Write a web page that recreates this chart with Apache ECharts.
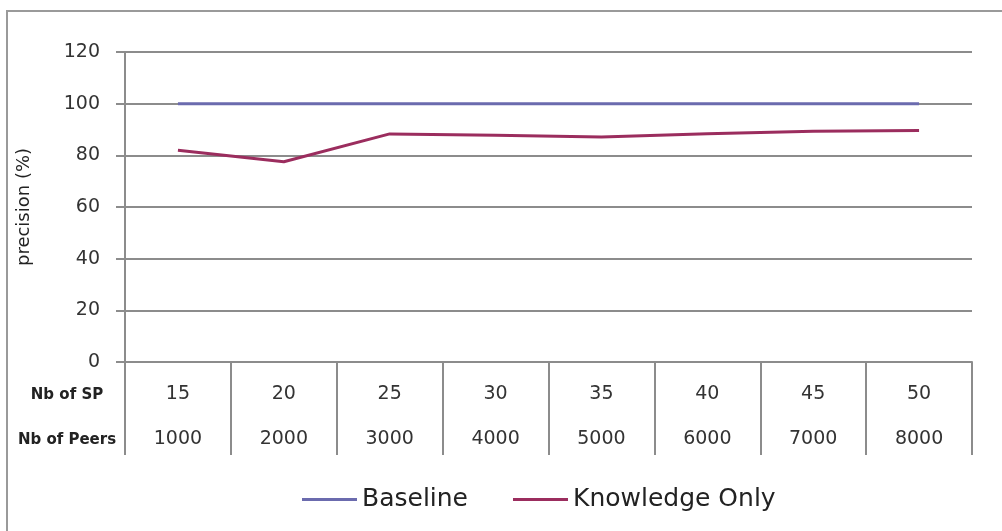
<!DOCTYPE html>
<html>
<head>
<meta charset="utf-8">
<script src="https://cdn.jsdelivr.net/npm/echarts@6/dist/echarts.min.js"></script>
<style>
html,body{margin:0;padding:0;background:#fff;}
#chart{width:1002px;height:531px;}
</style>
</head>
<body>
<div id="chart"></div>
<script>
// Data
var nbOfSP = ['15', '20', '25', '30', '35', '40', '45', '50'];
var nbOfPeers = ['1000', '2000', '3000', '4000', '5000', '6000', '7000', '8000'];
var baseline = [100, 100, 100, 100, 100, 100, 100, 100];
var knowledgeOnly = [82, 77.5, 88.3, 87.8, 87.1, 88.4, 89.3, 89.6];
var yTicks = { min: 0, max: 120, interval: 20 };
var rowLabels = ['Nb of SP', 'Nb of Peers'];
var seriesNames = ['Baseline', 'Knowledge Only'];

var gridColor = '#8c8c8c';
var font = 'DejaVu Sans';

var categories = nbOfSP.map(function (sp, i) { return sp + '\n' + nbOfPeers[i]; });

var chart = echarts.init(document.getElementById('chart'), null, { renderer: 'canvas' });
chart.setOption({
  animation: false,
  backgroundColor: '#ffffff',
  grid: { left: 125, right: 30, top: 52, bottom: 169, containLabel: false },
  xAxis: {
    type: 'category',
    data: categories,
    boundaryGap: true,
    axisLine: { show: true, lineStyle: { color: gridColor, width: 2 } },
    axisTick: { show: true, interval: 0, length: 93, lineStyle: { color: gridColor, width: 2 } },
    axisLabel: {
      interval: 0,
      margin: 10,
      fontFamily: font,
      fontSize: 19,
      lineHeight: 45,
      color: '#333333'
    },
    splitLine: { show: false }
  },
  yAxis: {
    type: 'value',
    min: yTicks.min,
    max: yTicks.max,
    interval: yTicks.interval,
    name: 'precision (%)',
    nameLocation: 'middle',
    nameRotate: 90,
    nameGap: 92,
    nameTextStyle: { fontFamily: font, fontSize: 18, color: '#222222' },
    axisLine: { show: true, lineStyle: { color: gridColor, width: 2 } },
    axisTick: { show: true, length: 9, lineStyle: { color: gridColor, width: 2 } },
    axisLabel: { margin: 25, fontFamily: font, fontSize: 19, color: '#333333' },
    splitLine: { show: true, lineStyle: { color: gridColor, width: 2 } }
  },
  legend: {
    left: 297,
    top: 482,
    itemWidth: 55,
    itemHeight: 3,
    itemGap: 45,
    icon: 'rect',
    textStyle: { fontFamily: font, fontSize: 25, color: '#222222' },
    data: seriesNames
  },
  series: [
    {
      name: seriesNames[0],
      type: 'line',
      data: baseline,
      symbol: 'none',
      lineStyle: { color: '#6b6bae', width: 3 },
      itemStyle: { color: '#6b6bae' }
    },
    {
      name: seriesNames[1],
      type: 'line',
      data: knowledgeOnly,
      symbol: 'none',
      lineStyle: { color: '#9b2d5e', width: 3 },
      itemStyle: { color: '#9b2d5e' }
    }
  ],
  graphic: [
    {
      type: 'rect',
      shape: { x: 7, y: 11, width: 1100, height: 600 },
      style: { fill: 'none', stroke: '#9a9a9a', lineWidth: 2 },
      silent: true
    },
    {
      type: 'text',
      x: 67, y: 395,
      style: { text: rowLabels[0], fontFamily: font, fontWeight: 'bold', fontSize: 15, fill: '#222222', align: 'center', verticalAlign: 'middle' }
    },
    {
      type: 'text',
      x: 67, y: 440,
      style: { text: rowLabels[1], fontFamily: font, fontWeight: 'bold', fontSize: 15, fill: '#222222', align: 'center', verticalAlign: 'middle' }
    }
  ]
});
</script>
</body>
</html>
